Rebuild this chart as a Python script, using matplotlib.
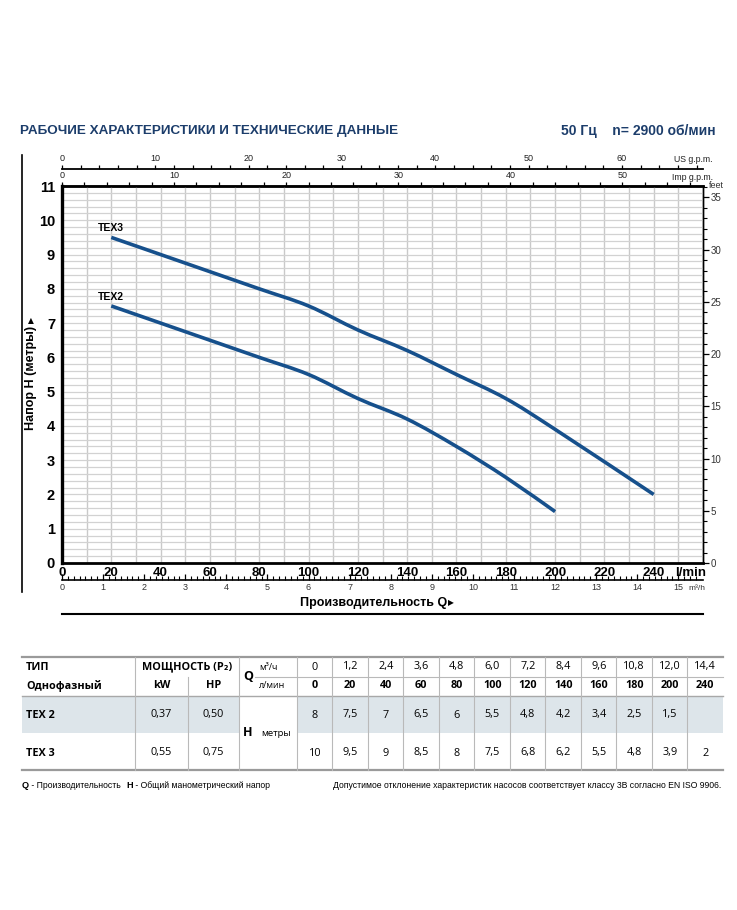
import matplotlib
matplotlib.use('Agg')
import matplotlib.pyplot as plt
from matplotlib.ticker import MultipleLocator, FixedLocator, FuncFormatter
from matplotlib.lines import Line2D
from matplotlib.path import Path
import matplotlib.patches as mpatches
import numpy as np

# ---------------- data ----------------
q_lmin = [0, 20, 40, 60, 80, 100, 120, 140, 160, 180, 200, 240]
q_m3h = ['0', '1,2', '2,4', '3,6', '4,8', '6,0', '7,2', '8,4', '9,6', '10,8', '12,0', '14,4']
h_tex2 = [8, 7.5, 7, 6.5, 6, 5.5, 4.8, 4.2, 3.4, 2.5, 1.5, None]
h_tex3 = [10, 9.5, 9, 8.5, 8, 7.5, 6.8, 6.2, 5.5, 4.8, 3.9, 2]
models = ['TEX 2', 'TEX 3']
curve_labels = ['TEX2', 'TEX3']
power_kw = ['0,37', '0,55']
power_hp = ['0,50', '0,75']
y_ticks_m = list(range(0, 12))
x_ticks_lmin = list(range(0, 241, 20))
us_ticks = list(range(0, 61, 10))
imp_ticks = list(range(0, 51, 10))
m3h_ticks = list(range(0, 16))
feet_ticks = list(range(0, 36, 5))

LPM_US = 3.785411784
LPM_IMP = 4.54609
M_FT = 3.28084

W, H = 737, 910
fig = plt.figure(figsize=(W / 100, H / 100), dpi=100)
fig.patch.set_facecolor('white')

NARROW = ['Liberation Sans Narrow', 'Liberation Sans', 'DejaVu Sans']
SANS = ['Open Sans', 'DejaVu Sans']
NAVY = '#1c3d6b'
CURVE = '#16508c'


def fx(px):
    return px / W


def fy(py):
    return 1 - py / H


# ---------------- main axes ----------------
pl, pr, pt, pb = 62, 703, 186, 563
ax = fig.add_axes([fx(pl), fy(pb), (pr - pl) / W, (pb - pt) / H])
ax.set_xlim(0, 260)
ax.set_ylim(0, 11)

ax.set_xticks(x_ticks_lmin)
ax.set_xticklabels([str(v) for v in x_ticks_lmin], fontweight='bold',
                   fontfamily=NARROW, fontsize=9.5)
ax.set_yticks(y_ticks_m)
ax.set_yticklabels([str(v) for v in y_ticks_m], fontweight='bold',
                   fontfamily=NARROW, fontsize=10.5)
ax.xaxis.set_minor_locator(MultipleLocator(10))
ax.yaxis.set_minor_locator(MultipleLocator(0.2))
ax.tick_params(axis='both', which='both', length=0)
ax.tick_params(axis='x', pad=3)
ax.tick_params(axis='y', pad=5)
ax.grid(True, which='both', axis='x', color='#c9c9c9', lw=1.0)
ax.grid(True, which='both', axis='y', color='#d2d2d2', lw=0.9)
ax.set_axisbelow(True)
for s, lw in [('left', 2.4), ('bottom', 2.0), ('top', 1.8), ('right', 1.0)]:
    ax.spines[s].set_linewidth(lw)
    ax.spines[s].set_color('black')


def smooth_path(xs, ys):
    """Cubic Bezier path (Catmull-Rom tangents) through the given data points."""
    p = np.column_stack([xs, ys]).astype(float)
    n = len(p)
    verts = [p[0]]
    codes = [Path.MOVETO]
    for i in range(n - 1):
        p0 = p[i - 1] if i > 0 else p[i]
        p1, p2 = p[i], p[i + 1]
        p3 = p[i + 2] if i + 2 < n else p[i + 1]
        c1 = p1 + (p2 - p0) / 6.0
        c2 = p2 - (p3 - p1) / 6.0
        verts += [c1, c2, p2]
        codes += [Path.CURVE4] * 3
    return Path(verts, codes)


# curves
for hv, lab in [(h_tex2, curve_labels[0]), (h_tex3, curve_labels[1])]:
    qs = [q for q, v in zip(q_lmin, hv) if v is not None and q > 0]
    hs = [v for q, v in zip(q_lmin, hv) if v is not None and q > 0]
    patch = mpatches.PathPatch(smooth_path(qs, hs), facecolor='none', edgecolor=CURVE,
                               lw=2.6, capstyle='butt', joinstyle='round', zorder=3,
                               transform=ax.transData)
    ax.add_patch(patch)
    ax.annotate(lab, (qs[0], hs[0]), xytext=(0, 3), textcoords='offset points',
                ha='center', va='bottom', fontsize=7.5, fontweight='bold',
                family=NARROW)

# US gpm axis
us = ax.secondary_xaxis(1 + 17 / 377, functions=(lambda x: x / LPM_US, lambda x: x * LPM_US))
us.xaxis.set_major_locator(FixedLocator(us_ticks))
us.xaxis.set_minor_locator(FixedLocator(list(range(0, 69, 2))))
us.tick_params(which='both', direction='out', length=3, width=0.9, labelsize=6.5,
               pad=1, labelfontfamily=NARROW, labelcolor='#222222')
us.spines['top'].set_linewidth(1.3)

# Imp gpm axis
imp = ax.secondary_xaxis('top', functions=(lambda x: x / LPM_IMP, lambda x: x * LPM_IMP))
imp.xaxis.set_major_locator(FixedLocator(imp_ticks))
imp.xaxis.set_minor_locator(FixedLocator(list(range(0, 57, 2))))
imp.tick_params(which='both', direction='out', length=3, width=0.9, labelsize=6.5,
                pad=1, labelfontfamily=NARROW, labelcolor='#222222')
imp.spines['top'].set_linewidth(1.8)

fig.text(fx(713), fy(159), 'US g.p.m.', ha='right', va='center', fontsize=6.3,
         family=NARROW, color='#222222')
fig.text(fx(713), fy(177), 'Imp g.p.m.', ha='right', va='center', fontsize=6.3,
         family=NARROW, color='#222222')

# l/min label
fig.text(fx(691), fy(573), 'l/min', ha='center', va='center',
         fontsize=9.5, fontweight='bold', family=NARROW)

# m3/h axis
m3 = ax.secondary_xaxis(-17 / 377, functions=(lambda x: x * 0.06, lambda x: x / 0.06))
m3.xaxis.set_major_locator(FixedLocator(m3h_ticks))
m3.xaxis.set_minor_locator(FixedLocator([k / 7 for k in range(0, 7 * 15 + 4)]))
m3.xaxis.set_major_formatter(FuncFormatter(lambda v, p: f'{int(round(v))}'))
m3.tick_params(which='major', direction='in', length=4, width=0.9)
m3.tick_params(which='minor', direction='in', length=3, width=0.8)
m3.tick_params(labelsize=6.5, pad=2, labelfontfamily=NARROW, labelcolor='#333333')
m3.spines['bottom'].set_linewidth(1.2)
fig.text(fx(688), fy(588), 'm³/h', ha='left', va='center', fontsize=6,
         family=NARROW, color='#333333')

# feet axis
ft = ax.secondary_yaxis('right', functions=(lambda x: x * M_FT, lambda x: x / M_FT))
ft.yaxis.set_major_locator(FixedLocator(feet_ticks))
ft.yaxis.set_minor_locator(FixedLocator(list(range(0, 37))))
ft.tick_params(which='major', direction='out', length=4, width=0.9)
ft.tick_params(which='minor', direction='out', length=3, width=0.8)
ft.tick_params(labelsize=7, pad=1.5, labelfontfamily=NARROW, labelcolor='#333333')
ft.spines['right'].set_linewidth(1.0)
fig.text(fx(709), fy(186), 'feet', ha='left', va='center', fontsize=6.5,
         family=NARROW, color='#333333')

# axis titles
fig.text(fx(31), fy(378), 'Напор H (метры)', rotation=90, ha='center', va='center',
         fontsize=9, fontweight='bold', family=NARROW)
fig.text(fx(31), fy(321), '▲', ha='center', va='center', fontsize=5.5,
         family='DejaVu Sans')
fig.text(fx(374), fy(603), 'Производительность Q', ha='center', va='center',
         fontsize=9, fontweight='bold', family=NARROW)
fig.text(fx(451), fy(603), '▶', ha='center', va='center', fontsize=5.5,
         family='DejaVu Sans')

# title
fig.text(fx(20), fy(131), 'РАБОЧИЕ ХАРАКТЕРИСТИКИ И ТЕХНИЧЕСКИЕ ДАННЫЕ', ha='left',
         va='center', fontsize=9.7, fontweight='bold', family=NARROW, color=NAVY)
fig.text(fx(716), fy(131), '50 Гц    n= 2900 об/мин', ha='right', va='center',
         fontsize=10, fontweight='bold', family=NARROW, color=NAVY)

# ---------------- overlay for table & frame lines ----------------
tax = fig.add_axes([0, 0, 1, 1])
tax.set_xlim(0, W)
tax.set_ylim(H, 0)
tax.axis('off')

tax.add_line(Line2D([22, 22], [155, 592], color='black', lw=1.2))
tax.add_line(Line2D([62, 703], [614, 614], color='black', lw=1.5))

# table geometry
tl, tr = 22, 723
y_top, y_h1, y_hdr, y_r1, y_bot = 657, 677, 696, 733, 770
c_type, c_kw, c_hp, c_q = 135, 188, 239, 297
ncol = len(q_lmin)
cw = (tr - c_q) / ncol
GRID = '#b9b9b9'
SHADE = '#dde5ea'

tax.add_patch(mpatches.Rectangle((tl, y_hdr), c_hp - tl, y_r1 - y_hdr, color=SHADE, lw=0))
tax.add_patch(mpatches.Rectangle((c_q, y_hdr), tr - c_q, y_r1 - y_hdr, color=SHADE, lw=0))

tax.add_line(Line2D([tl, tr], [y_top, y_top], color='#9a9a9a', lw=1.6))
tax.add_line(Line2D([tl, tr], [y_bot, y_bot], color='#9a9a9a', lw=1.6))
tax.add_line(Line2D([tl, tr], [y_hdr, y_hdr], color='#a8a8a8', lw=1.0))
tax.add_line(Line2D([255, tr], [y_h1, y_h1], color=GRID, lw=0.8))
for xv, y0 in [(c_type, y_top), (c_kw, y_h1), (c_hp, y_top), (c_q, y_top)]:
    tax.add_line(Line2D([xv, xv], [y0, y_bot], color=GRID, lw=0.8))
for i in range(1, ncol):
    xv = c_q + i * cw
    tax.add_line(Line2D([xv, xv], [y_top, y_bot], color=GRID, lw=0.8))

FS = 7.8
ym1, ym2 = 667, 686
tax.text(26, ym1, 'ТИП', ha='left', va='center', fontsize=FS, fontweight='bold', family=SANS)
tax.text(26, ym2, 'Однофазный', ha='left', va='center', fontsize=FS, fontweight='bold', family=SANS)
tax.text((c_type + c_hp) / 2, ym1, 'МОЩНОСТЬ (P₂)', ha='center', va='center', fontsize=FS,
         fontweight='bold', family=SANS)
tax.text((c_type + c_kw) / 2, ym2, 'kW', ha='center', va='center', fontsize=FS,
         fontweight='bold', family=SANS)
tax.text((c_kw + c_hp) / 2, ym2, 'HP', ha='center', va='center', fontsize=FS,
         fontweight='bold', family=SANS)
tax.text(248, (ym1 + ym2) / 2, 'Q', ha='center', va='center', fontsize=9,
         fontweight='bold', family=SANS)
tax.text(259, ym1, 'м³/ч', ha='left', va='center', fontsize=6.5, family=SANS)
tax.text(259, ym2, 'л/мин', ha='left', va='center', fontsize=6.5, family=SANS)
tax.text(248, (y_hdr + y_bot) / 2, 'H', ha='center', va='center', fontsize=9,
         fontweight='bold', family=SANS)
tax.text(261, (y_hdr + y_bot) / 2, 'метры', ha='left', va='center', fontsize=6.8, family=SANS)


def fmt(v):
    if v is None:
        return ''
    if float(v).is_integer():
        return str(int(v))
    return str(v).replace('.', ',')


for i in range(ncol):
    xc = c_q + (i + 0.5) * cw
    tax.text(xc, ym1, q_m3h[i], ha='center', va='center', fontsize=FS, family=SANS)
    tax.text(xc, ym2, str(q_lmin[i]), ha='center', va='center', fontsize=FS,
             fontweight='bold', family=SANS)

row_y = [715, 753]
for r, hv in enumerate([h_tex2, h_tex3]):
    yc = row_y[r]
    tax.text(26, yc, models[r], ha='left', va='center', fontsize=FS, fontweight='bold', family=SANS)
    tax.text((c_type + c_kw) / 2, yc, power_kw[r], ha='center', va='center', fontsize=FS, family=SANS)
    tax.text((c_kw + c_hp) / 2, yc, power_hp[r], ha='center', va='center', fontsize=FS, family=SANS)
    for i in range(ncol):
        xc = c_q + (i + 0.5) * cw
        tax.text(xc, yc, fmt(hv[i]), ha='center', va='center', fontsize=FS, family=SANS)

# footer
yf = 785
FF = 6.2
t1 = tax.text(22, yf, 'Q', ha='left', va='center', fontsize=FF + 0.4, fontweight='bold', family=NARROW)
t2 = tax.annotate(' - Производительность', xy=(1, 0.5), xycoords=t1, xytext=(0, 0),
                  textcoords='offset points', ha='left', va='center', fontsize=FF, family=NARROW)
t3 = tax.annotate('H', xy=(1, 0.5), xycoords=t2, xytext=(4, 0),
                  textcoords='offset points', ha='left', va='center', fontsize=FF + 0.4,
                  fontweight='bold', family=NARROW)
tax.annotate(' - Общий манометрический напор', xy=(1, 0.5), xycoords=t3, xytext=(0, 0),
             textcoords='offset points', ha='left', va='center', fontsize=FF, family=NARROW)
tax.text(721, yf, 'Допустимое отклонение характеристик насосов соответствует классу 3B согласно EN ISO 9906.',
         ha='right', va='center', fontsize=FF, family=NARROW)

fig.savefig('out.png', dpi=100, facecolor='white')
